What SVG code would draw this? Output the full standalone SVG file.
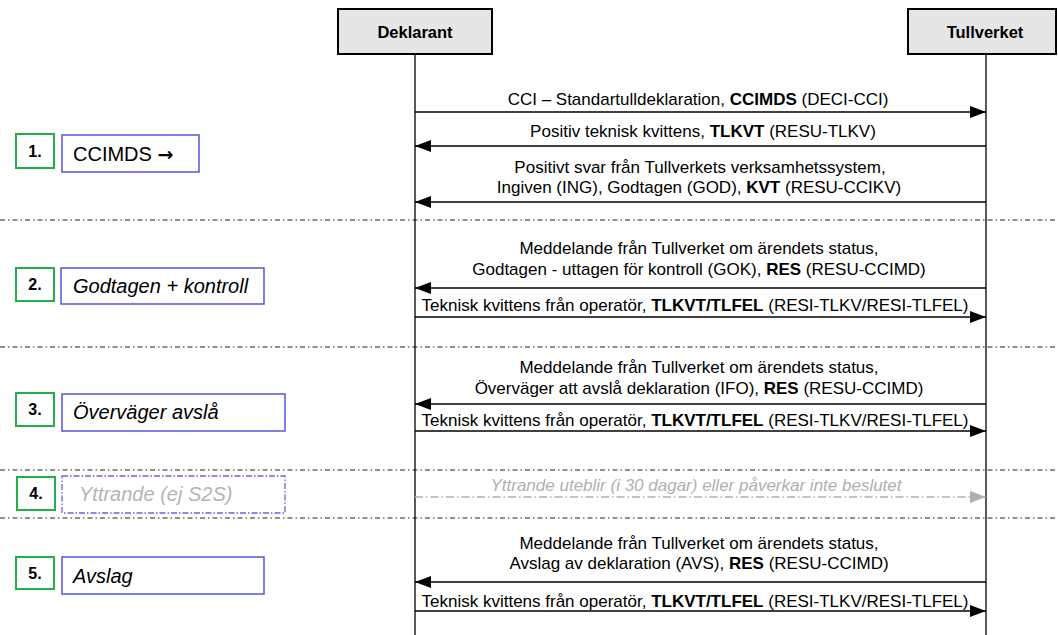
<svg xmlns="http://www.w3.org/2000/svg" width="1058" height="635" viewBox="0 0 1058 635">
<style>
text{font-family:"Liberation Sans",Arial,sans-serif;fill:#000}
.hdr{fill:#e6e6e6;stroke:#000;stroke-width:2}
.hdrt{font-size:16.5px;font-weight:bold;text-anchor:middle}
.life{stroke:#000;stroke-width:1.3;fill:none}
.sep{stroke:#222;stroke-width:1.1;stroke-dasharray:5,3,1.5,3;fill:none}
.msg{stroke:#000;stroke-width:1.3;fill:none;marker-end:url(#ah)}
.msgg{stroke:#b0b0b0;stroke-width:1.3;fill:none;stroke-dasharray:8,3,1.5,3;marker-end:url(#ahg)}
.ml{font-size:17px;text-anchor:middle}
.mlg{font-size:17px;text-anchor:middle;font-style:italic;fill:#b0b0b0}
.num{fill:#fff;stroke:#22b04b;stroke-width:2}
.numt{font-size:16px;font-weight:bold;text-anchor:middle}
.lbl{fill:#fff;stroke:#5555dd;stroke-width:1.5}
.lbld{fill:#fff;stroke:#6666dd;stroke-width:1.3;stroke-dasharray:6,2,1.5,2}
.lblt{font-size:20px}
.it{font-style:italic}
.b{font-weight:bold}
.arr{font-family:"DejaVu Sans",sans-serif;font-weight:bold;font-size:19px}
</style>
<defs>
<marker id="ah" markerUnits="userSpaceOnUse" markerWidth="17" markerHeight="13" refX="16" refY="6" orient="auto"><path d="M0,0 L16,6 L0,12 z" fill="#000"/></marker>
<marker id="ahg" markerUnits="userSpaceOnUse" markerWidth="17" markerHeight="13" refX="16" refY="6" orient="auto"><path d="M0,0 L16,6 L0,12 z" fill="#b0b0b0"/></marker>
</defs>
<rect width="1058" height="635" fill="#fff"/>

<g id="separators">
<line class="sep" x1="0" y1="220" x2="1058" y2="220"/>
<line class="sep" x1="0" y1="347" x2="1058" y2="347"/>
<line class="sep" x1="0" y1="470" x2="1058" y2="470"/>
<line class="sep" x1="0" y1="518" x2="1058" y2="518"/>
</g>

<g id="deklarant">
<line class="life" x1="415" y1="54" x2="415" y2="635"/>
<rect class="hdr" x="338" y="9" width="154" height="45"/>
<text class="hdrt" x="415" y="38">Deklarant</text>
</g>
<g id="tullverket">
<line class="life" x1="986" y1="54" x2="986" y2="635"/>
<rect class="hdr" x="908" y="9" width="148" height="45"/>
<text class="hdrt" x="985" y="38">Tullverket</text>
</g>

<g id="connectors">
<line class="msg" x1="415" y1="112" x2="986" y2="112"/>
<text class="ml" x="698" y="105">CCI – Standartulldeklaration, <tspan class="b">CCIMDS</tspan> (DECI-CCI)</text>
<line class="msg" x1="986" y1="146" x2="415" y2="146"/>
<text class="ml" x="703" y="137">Positiv teknisk kvittens, <tspan class="b">TLKVT</tspan> (RESU-TLKV)</text>
<line class="msg" x1="986" y1="202" x2="415" y2="202"/>
<text class="ml" x="700" y="173">Positivt svar från Tullverkets verksamhetssystem,</text>
<text class="ml" x="699" y="193">Ingiven (ING), Godtagen (GOD), <tspan class="b">KVT</tspan> (RESU-CCIKV)</text>

<text class="ml" x="699" y="254">Meddelande från Tullverket om ärendets status,</text>
<text class="ml" x="699" y="275">Godtagen - uttagen för kontroll (GOK), <tspan class="b">RES</tspan> (RESU-CCIMD)</text>
<line class="msg" x1="986" y1="288" x2="415" y2="288"/>
<text class="ml" x="695" y="311">Teknisk kvittens från operatör, <tspan class="b">TLKVT/TLFEL</tspan> (RESI-TLKV/RESI-TLFEL)</text>
<line class="msg" x1="415" y1="317" x2="986" y2="317"/>

<text class="ml" x="699" y="373">Meddelande från Tullverket om ärendets status,</text>
<text class="ml" x="699" y="394">Överväger att avslå deklaration (IFO), <tspan class="b">RES</tspan> (RESU-CCIMD)</text>
<line class="msg" x1="986" y1="404" x2="415" y2="404"/>
<text class="ml" x="695" y="426">Teknisk kvittens från operatör, <tspan class="b">TLKVT/TLFEL</tspan> (RESI-TLKV/RESI-TLFEL)</text>
<line class="msg" x1="415" y1="431" x2="986" y2="431"/>

<text class="mlg" x="696" y="491">Yttrande uteblir (i 30 dagar) eller påverkar inte beslutet</text>
<line class="msgg" x1="415" y1="497" x2="986" y2="497"/>

<text class="ml" x="699" y="549">Meddelande från Tullverket om ärendets status,</text>
<text class="ml" x="699" y="569">Avslag av deklaration (AVS), <tspan class="b">RES</tspan> (RESU-CCIMD)</text>
<line class="msg" x1="986" y1="582" x2="415" y2="582"/>
<text class="ml" x="695" y="607">Teknisk kvittens från operatör, <tspan class="b">TLKVT/TLFEL</tspan> (RESI-TLKV/RESI-TLFEL)</text>
<line class="msg" x1="415" y1="611" x2="986" y2="611"/>
</g>

<g id="step1">
<rect class="num" x="16" y="134" width="38" height="34"/>
<text class="numt" x="35" y="157">1.</text>
<rect class="lbl" x="62" y="135" width="137" height="37"/>
<text class="lblt" x="73" y="161">CCIMDS <tspan class="arr">→</tspan></text>
</g>
<g id="step2">
<rect class="num" x="16" y="268" width="38" height="33"/>
<text class="numt" x="35" y="290">2.</text>
<rect class="lbl" x="61" y="268" width="203" height="36"/>
<text class="lblt it" x="73" y="293">Godtagen + kontroll</text>
</g>
<g id="step3">
<rect class="num" x="16" y="393" width="38" height="33"/>
<text class="numt" x="35" y="415">3.</text>
<rect class="lbl" x="62" y="394" width="223" height="37"/>
<text class="lblt it" x="73" y="419">Överväger avslå</text>
</g>
<g id="step4">
<rect class="num" x="17" y="477" width="38" height="33"/>
<text class="numt" x="36" y="499">4.</text>
<rect class="lbld" x="62" y="476" width="223" height="37"/>
<text class="lblt it" x="79" y="501" style="fill:#b5b5b5">Yttrande (ej S2S)</text>
</g>
<g id="step5">
<rect class="num" x="16" y="557" width="38" height="32"/>
<text class="numt" x="35" y="579">5.</text>
<rect class="lbl" x="62" y="557" width="202" height="37"/>
<text class="lblt it" x="73" y="583">Avslag</text>
</g>
</svg>
